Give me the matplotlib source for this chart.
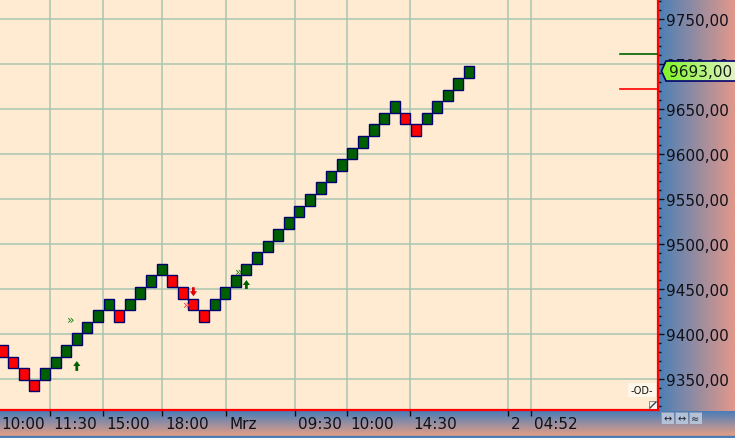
import numpy as np
import matplotlib
matplotlib.use("Agg")
import matplotlib.pyplot as plt
from matplotlib.patches import Rectangle, Polygon
from matplotlib.ticker import MultipleLocator
import matplotlib.transforms as mtransforms

W, H = 735, 439

# renko bricks: top value of each brick and its direction (1 up / -1 down)
box_size = 12.9
brick_top = [9387.8, 9374.9, 9362.0, 9349.1, 9362.0, 9374.9, 9387.8, 9400.7,
             9413.6, 9426.5, 9439.4, 9426.5, 9439.4, 9452.3, 9465.2, 9478.1,
             9465.2, 9452.3, 9439.4, 9426.5, 9439.4, 9452.3, 9465.2, 9478.1,
             9491.0, 9503.9, 9516.8, 9529.7, 9542.6, 9555.5, 9568.4, 9581.3,
             9594.2, 9607.1, 9620.0, 9632.9, 9645.8, 9658.7, 9645.8, 9632.9,
             9645.8, 9658.7, 9671.6, 9684.5, 9697.4]
brick_dir = [-1, -1, -1, -1, 1, 1, 1, 1, 1, 1, 1, -1, 1, 1, 1, 1,
             -1, -1, -1, -1, 1, 1, 1, 1, 1, 1, 1, 1, 1, 1, 1, 1,
             1, 1, 1, 1, 1, 1, -1, -1, 1, 1, 1, 1, 1]

time_labels = ["10:00", "11:30", "15:00", "18:00", "Mrz", "09:30", "10:00", "14:30", "2", "04:52"]
time_pos = [-0.39, 4.47, 9.47, 15.04, 21.08, 27.58, 32.49, 38.43, 47.68, 49.85]

last_price = 9693.0
up_level = 9711.0
down_level = 9672.0

# signals: (bar, tail price, tip price)
buy_arrows = [(7.0, 9359, 9370), (23.0, 9450, 9460)]
sell_arrows = [(18.0, 9452, 9442)]
green_marks = [(6.4, 9416), (22.3, 9470)]
red_marks = [(17.4, 9433)]

BG = "#FFEBD1"
GRID = "#A9C6B1"
UP = "#006000"
DOWN = "#FF0000"
EDGE = "#000070"
FONT = "DejaVu Sans"


def fr(x0, y0, x1, y1):
    # pixel box -> figure rect
    return [x0 / W, 1 - y1 / H, (x1 - x0) / W, (y1 - y0) / H]


def hex2rgb(h):
    return np.array([int(h[i:i + 2], 16) / 255 for i in (1, 3, 5)])


def arrow(ax, x, y0, y1, color):
    # block arrow: shaft + head, sized in bar / price units
    hw, sw = 0.34, 0.13
    hl = 5.5 if y1 > y0 else -5.5
    base = y1 - hl
    pts = [(x - sw, y0), (x - sw, base), (x - hw, base), (x, y1),
           (x + hw, base), (x + sw, base), (x + sw, y0)]
    ax.add_patch(Polygon(pts, closed=True, facecolor=color, edgecolor="none", zorder=4))


fig = plt.figure(figsize=(W / 100, H / 100), dpi=100)

# bottom gradient panel
bp = fig.add_axes(fr(0, 412, W, H), zorder=0)
t = np.linspace(0, 1, 64)[:, None, None]
grad = hex2rgb("#4A7DB8") * (1 - t) + hex2rgb("#F2A282") * t
grad = np.repeat(grad, 2, axis=1)
bp.imshow(grad, aspect="auto", extent=(0, 1, 0, 1))
bp.axhline(0.03, color="#4A7DB8", lw=2.5)
bp.set_axis_off()

# right gradient panel
rp = fig.add_axes(fr(659, 0, W, 412), zorder=0)
t = np.linspace(0, 1, 64)[None, :, None]
grad = hex2rgb("#4C80B6") * (1 - t) + hex2rgb("#E2988A") * t
grad = np.repeat(grad, 2, axis=0)
rp.imshow(grad, aspect="auto", extent=(0, 1, 0, 1))
rp.set_axis_off()

ax = fig.add_axes(fr(0, 0, 658, 411), zorder=2)
ax.set_facecolor(BG)
ax.set_xlim(-0.245, 61.83)
ax.set_ylim(9315.6, 9772.2)

for y in range(9350, 9751, 50):
    ax.axhline(y, color=GRID, lw=1.1, zorder=1)
for x in time_pos[1:]:
    ax.axvline(x, color=GRID, lw=1.1, zorder=1)

for i, (top, d) in enumerate(zip(brick_top, brick_dir)):
    ax.add_patch(Rectangle((i - 0.47, top - box_size), 0.94, box_size,
                           facecolor=UP if d > 0 else DOWN, edgecolor=EDGE,
                           lw=1.0, zorder=3))

ax.plot([58.2, 61.8], [up_level, up_level], color=UP, lw=1.2, zorder=3)
ax.plot([58.2, 61.8], [down_level, down_level], color=DOWN, lw=1.2, zorder=3)

for x, y0, y1 in buy_arrows:
    arrow(ax, x, y0, y1, UP)
for x, y0, y1 in sell_arrows:
    arrow(ax, x, y0, y1, "#E00000")
for x, y in green_marks:
    ax.text(x, y, "»", color="#108010", fontsize=9, ha="center", va="center", zorder=4)
for x, y in red_marks:
    ax.text(x, y, "»", color="#FF3030", fontsize=9, ha="center", va="center", zorder=4)

# spines
for s in ("top", "left"):
    ax.spines[s].set_visible(False)
for s in ("right", "bottom"):
    ax.spines[s].set_color("#FF0000")
    ax.spines[s].set_linewidth(1.6)

# right price axis
ax.yaxis.tick_right()
ax.yaxis.set_major_locator(MultipleLocator(50))
ax.yaxis.set_minor_locator(MultipleLocator(10))
ax.yaxis.set_major_formatter(lambda v, p: f"{v:.2f}".replace(".", ","))
ax.tick_params(axis="y", which="major", length=4, width=1, color="#101010",
               pad=2, labelsize=11, labelcolor="#101018")
ax.tick_params(axis="y", which="minor", length=2, width=1, color="#101010")
for lab in ax.get_yticklabels():
    lab.set_fontfamily(FONT)

# time axis
ax.set_xticks(time_pos[1:])
ax.set_xticklabels([])
ax.tick_params(axis="x", length=4, width=1, color="#101010")
tr = mtransforms.blended_transform_factory(ax.transData, ax.transAxes)
tr = mtransforms.offset_copy(tr, fig=fig, x=3, y=0, units="dots")
for x, lab in zip(time_pos, time_labels):
    ax.text(x, -14 / 411, lab, transform=tr, ha="left", va="center",
            fontsize=11, family=FONT, color="#101018", clip_on=False)

# current price marker
pa = fig.add_axes(fr(660, 60, W, 84), zorder=5)
pa.set_axis_off()
poly = Polygon([(1.5, 12), (6, 2), (76, 2), (76, 22), (6, 22)], closed=True,
               facecolor="none", edgecolor=EDGE, lw=1.2, zorder=3)
pa.add_patch(poly)
t = np.linspace(0, 1, 64)[None, :, None]
g = hex2rgb("#7CF41E") * (1 - t) + hex2rgb("#E6F0CC") * t
g = np.repeat(g, 2, axis=0)
im = pa.imshow(g, aspect="auto", extent=(0, 76, 2, 22), zorder=2)
im.set_clip_path(poly)
pa.set_xlim(0, 75)
pa.set_ylim(0, 24)
pa.text(41, 12, f"{last_price:.2f}".replace(".", ","), fontsize=11, family=FONT,
        color="#102010", ha="center", va="center", zorder=4)

# small icons
ia = fig.add_axes(fr(628, 384, 656, 398), zorder=5)
ia.set_xlim(0, 28)
ia.set_ylim(0, 14)
ia.set_axis_off()
ia.add_patch(Rectangle((0, 0), 28, 14, facecolor="#FFF6EA", edgecolor="none"))
ia.text(14, 7, "-OD-", fontsize=7, family=FONT, ha="center", va="center", color="#101010")

ra = fig.add_axes(fr(649, 402, 657, 410), zorder=5)
ra.set_xlim(0, 1)
ra.set_ylim(0, 1)
ra.set_axis_off()
ra.add_patch(Rectangle((0, 0), 1, 1, facecolor="#F4F4F4", edgecolor="#909090", lw=0.8))
ra.plot([0.15, 0.85], [0.15, 0.85], color="#404040", lw=1)

for k, glyph in enumerate(["↔", "↔", "≈"]):
    x0 = 661 + k * 14
    ba = fig.add_axes(fr(x0, 413, x0 + 13, 425), zorder=5)
    ba.set_xlim(0, 1)
    ba.set_ylim(0, 1)
    ba.set_axis_off()
    ba.add_patch(Rectangle((0, 0), 1, 1, facecolor="#B4C2D8", edgecolor="#8898B0", lw=0.6))
    ba.text(0.5, 0.5, glyph, fontsize=7, ha="center", va="center", color="#202030")

fig.savefig("out.png", dpi=100)
